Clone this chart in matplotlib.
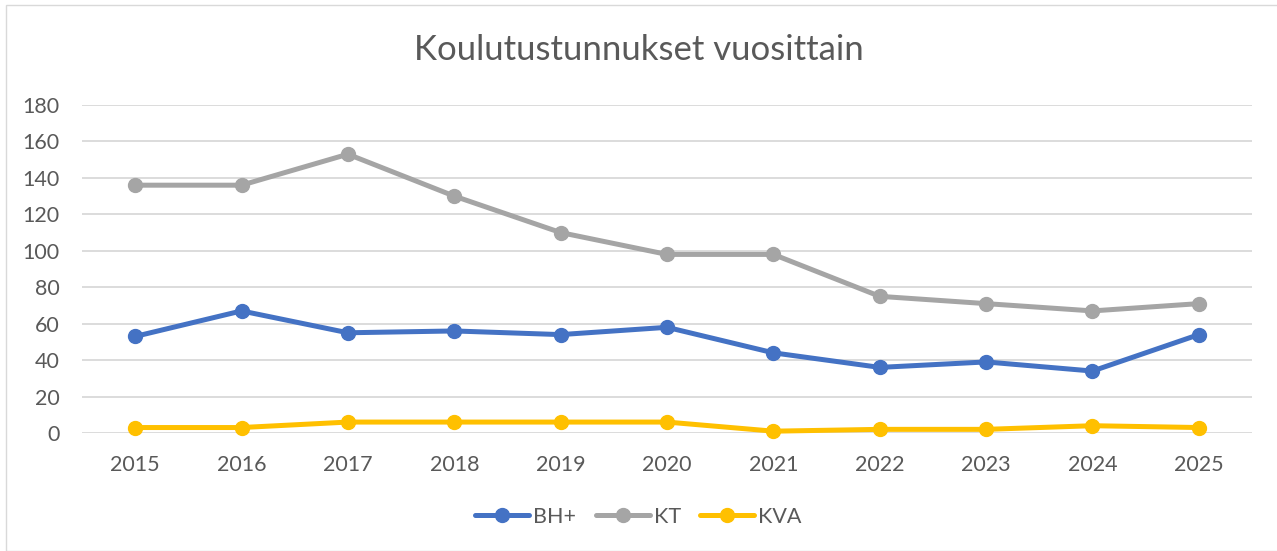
import matplotlib
matplotlib.use("Agg")
import matplotlib.pyplot as plt
from matplotlib.patches import Rectangle

plt.rcParams['font.family'] = ['Lato', 'DejaVu Sans']

years = [2015, 2016, 2017, 2018, 2019, 2020, 2021, 2022, 2023, 2024, 2025]
bh = [53, 67, 55, 56, 54, 58, 44, 36, 39, 34, 54]
kt = [136, 136, 153, 130, 110, 98, 98, 75, 71, 67, 71]
kva = [3, 3, 6, 6, 6, 6, 1, 2, 2, 4, 3]

series = [("BH+", bh, "#4472C4"), ("KT", kt, "#A5A5A5"), ("KVA", kva, "#FFC000")]
txt = "#595959"

W, H = 1277, 551
fig = plt.figure(figsize=(W/100, H/100), dpi=100)
ax = fig.add_axes([82/W, 1-433/H, (1252-82)/W, (433-105)/H])

# chart border
fig.patches.append(Rectangle((6/W, 0), 1.2, 1-5/H, transform=fig.transFigure,
                             fill=False, edgecolor="#D9D9D9", lw=1.0))

x = list(range(len(years)))
for name, vals, col in series:
    ax.plot(x, vals, color=col, lw=3.6, marker='o', ms=10,
            label=name, clip_on=False, solid_capstyle='round')

ax.set_xlim(-0.5, len(years)-0.5)
ax.set_ylim(0, 180)
ax.set_yticks(range(0, 181, 20))
ax.set_xticks(x, [str(y) for y in years])
ax.grid(axis='y', color="#D9D9D9", lw=1.3)
ax.set_axisbelow(True)
for s in ax.spines.values():
    s.set_visible(False)
ax.tick_params(length=0, labelsize=15.5, colors=txt)
ax.tick_params(axis='y', pad=16)
ax.tick_params(axis='x', pad=16)

fig.text(0.5, 1-50/H, "Koulutustunnukset vuosittain", ha='center', va='center',
         fontsize=25, color=txt)

leg = fig.legend(loc='center', bbox_to_anchor=(0.5, 1-517/H), ncol=3, frameon=False,
                 fontsize=15.5, handlelength=2.5, columnspacing=0.9, handletextpad=0.2)
for t in leg.get_texts():
    t.set_color(txt)

fig.savefig("out.png", dpi=100)
